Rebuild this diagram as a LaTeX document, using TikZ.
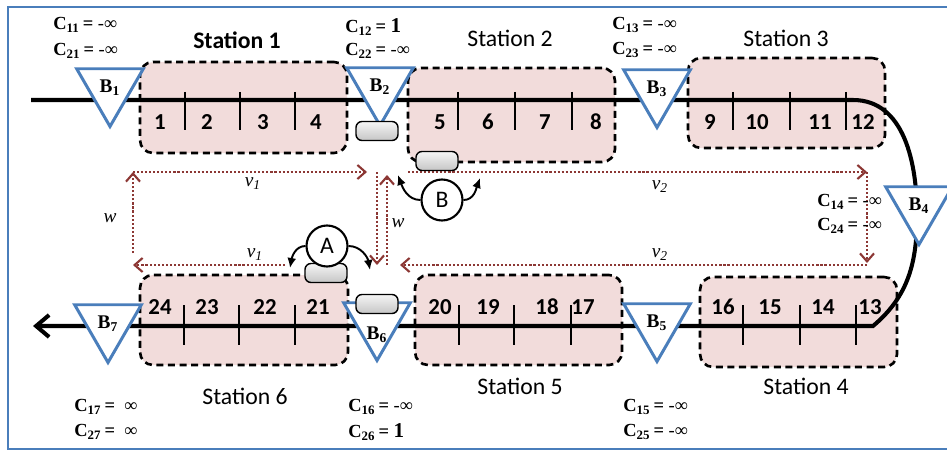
\documentclass[tikz,border=0pt]{standalone}
\usepackage{fontspec}
\setmainfont{Liberation Serif}
\newfontfamily\calibri{Carlito}
\usetikzlibrary{arrows.meta,shapes.geometric,positioning}
\definecolor{sigblue}{RGB}{74,126,187}
\definecolor{stpink}{RGB}{242,220,219}
\definecolor{gapred}{RGB}{140,55,52}
\newcommand{\cnd}[2]{\textbf{C}\textsubscript{\textbf{#1}}\,\textbf{=}\ #2}

\begin{document}
\begin{tikzpicture}[
    x=0.2mm, y=-0.2mm,
    track/.style={line width=2.3pt, black},
    station/.style={rectangle, rounded corners=2.6mm, draw=black, fill=stpink,
                    line width=1.5pt, dash pattern=on 4pt off 2.6pt},
    stlabel/.style={font=\calibri\fontsize{13.5}{15}\selectfont},
    num/.style={font=\calibri\bfseries\fontsize{13}{15}\selectfont},
    tick/.style={line width=1.3pt},
    sig/.style={regular polygon, regular polygon sides=3, shape border rotate=180,
                draw=sigblue, line width=1.7pt, fill=white, minimum size=15.4mm,
                inner sep=0pt, font=\bfseries\fontsize{11}{12}\selectfont},
    car/.style={rectangle, rounded corners=1.2mm, draw=black, line width=0.8pt,
                top color=gray!8, bottom color=gray!45, minimum width=8.4mm, minimum height=3.8mm},
    crew/.style={circle, draw=black, line width=1.2pt, fill=white, minimum size=8.2mm,
                 inner sep=0pt, font=\calibri\fontsize{13.5}{15}\selectfont},
    swing/.style={-{Latex[length=2mm,width=1.8mm]}, line width=1.1pt},
    gap/.style={-{Straight Barb[length=1.6mm,width=2.8mm]}, gapred, line width=1.2pt,
                dash pattern=on 1.2pt off 1.1pt},
    gaplbl/.style={font=\itshape\fontsize{11}{12}\selectfont},
    cond/.style={anchor=west, inner sep=0pt, font=\fontsize{10.5}{12}\selectfont}
]
\useasboundingbox (0,0) rectangle (947,451);

% ---- Frame ----
\draw[sigblue, line width=1.2pt] (947,7) -- (8,7) -- (8,449) -- (947,449);

% ---- Stations ----
\node[station, minimum width=41.4mm, minimum height=18.2mm] (st1) at (243.5,107.5) {};
\node[station, minimum width=41.4mm, minimum height=18.8mm] (st2) at (511.5,115) {};
\node[station, minimum width=39.4mm, minimum height=18mm] (st3) at (786.5,103) {};
\node[station, minimum width=41.6mm, minimum height=18mm] (st6) at (244,320) {};
\node[station, minimum width=41.4mm, minimum height=18mm] (st5) at (518.5,320) {};
\node[station, minimum width=39.4mm, minimum height=18mm] (st4) at (798.5,322) {};

\node[stlabel, font=\calibri\bfseries\fontsize{13.5}{15}\selectfont] (st1lbl) at (237,40) {Station 1};
\node[stlabel] (st2lbl) at (510,38) {Station 2};
\node[stlabel] (st3lbl) at (786,38) {Station 3};
\node[stlabel] (st6lbl) at (245,396) {Station 6};
\node[stlabel] (st5lbl) at (520,386) {Station 5};
\node[stlabel] (st4lbl) at (806,386) {Station 4};

% ---- Track ----
\coordinate (trin) at (31,100);
\coordinate (trturn) at (917,215);
\coordinate (trout) at (33,326);
\draw[track, -{Straight Barb[length=2.6mm,width=4.4mm]}]
    (trin) -- (853,100) to[out=0,in=90] (trturn) to[out=-90,in=40] (873,326) -- (trout);

\foreach \x in {185,240,295,458,515,572,733,790,846}
    \draw[tick] (\x,92) -- (\x,130);
\foreach \x in {184,239,295,459,514,571,743,800,856}
    \draw[tick] (\x,305) -- (\x,345);

\foreach \n/\x in {1/160,2/207,3/263,4/316,5/440,6/488,7/545,8/596,9/710,10/757,11/820,12/863}
    \node[num] (n\n) at (\x,122) {\n};
\foreach \n/\x in {24/160,23/207,22/265,21/318,20/440,19/488,18/547,17/583,16/723,15/770,14/823,13/870}
    \node[num] (n\n) at (\x,307) {\n};

% ---- Block signals ----
\node[sig] (b1) at (110,88) {B\textsubscript{1}};
\node[sig] (b2) at (380,87) {B\textsubscript{2}};
\node[sig] (b3) at (657,89) {B\textsubscript{3}};
\node[sig] (b4) at (919,206) {B\textsubscript{4}};
\node[sig] (b5) at (657,323) {B\textsubscript{5}};
\node[sig, label={[yshift=-2.6mm, font=\bfseries\fontsize{11}{12}\selectfont]center:B\textsubscript{6}}] (b6) at (377,322) {};
\node[sig] (b7) at (108,324) {B\textsubscript{7}};

% ---- Headways ----
\coordinate (g1) at (133,253);
\coordinate (g2) at (133,172);
\coordinate (g3) at (367,172);
\coordinate (g4) at (285,265);
\coordinate (g5) at (133,265);
\coordinate (g6) at (377,172);
\coordinate (g7) at (377,265);
\coordinate (g8) at (387,265);
\coordinate (g9) at (387,175);
\coordinate (g10) at (408,172);
\coordinate (g11) at (867,172);
\coordinate (g12) at (867,263);
\coordinate (g13) at (867,265);
\coordinate (g14) at (400,265);
\draw[gap] (g1) -- (g2);
\draw[gap] (g2) -- (g3);
\draw[gap] (g4) -- (g5);
\draw[gap] (g6) -- (g7);
\draw[gap] (g8) -- (g9);
\draw[gap] (g10) -- (g11);
\draw[gap] (g11) -- (g12);
\draw[gap] (g13) -- (g14);

\node[gaplbl] (v1top) at (253,184) {v\textsubscript{\itshape 1}};
\node[gaplbl] (v1bot) at (255,255) {v\textsubscript{\itshape 1}};
\node[gaplbl] (v2top) at (660,187) {v\textsubscript{\itshape 2}};
\node[gaplbl] (v2bot) at (660,255) {v\textsubscript{\itshape 2}};
\node[gaplbl] (wleft) at (110,218) {w};
\node[gaplbl] (wmid) at (398,223) {w};

% ---- Trains ----
\node[car] (car1) at (377,131) {};
\node[car] (car2) at (437,161) {};
\node[car] (car3) at (326,273) {};
\node[car] (car4) at (377,304) {};

% ---- Crews ----
\node[crew] (ca) at (327,246) {A};
\node[crew] (cb) at (442,200) {B};
\coordinate (atl) at (290,268);
\coordinate (atr) at (370,270);
\coordinate (btl) at (398,175);
\coordinate (btr) at (480,178);
\draw[swing] (ca.west) to[out=180,in=80] (atl);
\draw[swing] (ca.east) to[out=0,in=100] (atr);
\draw[swing] (cb.west) to[out=180,in=-70] (btl);
\draw[swing] (cb.east) to[out=0,in=-110] (btr);

% ---- Conditions ----
\node[cond] (c11) at (53,25) {\cnd{11}{-∞}};
\node[cond] (c21) at (53,51) {\cnd{21}{-∞}};
\node[cond] (c12) at (345,27) {\cnd{12}{\textbf{\large 1}}};
\node[cond] (c22) at (345,51) {\cnd{22}{-∞}};
\node[cond] (c13) at (612,25) {\cnd{13}{-∞}};
\node[cond] (c23) at (612,50) {\cnd{23}{-∞}};
\node[cond] (c14) at (817,202) {\cnd{14}{-∞}};
\node[cond] (c24) at (817,226) {\cnd{24}{-∞}};
\node[cond] (c15) at (623,407) {\cnd{15}{-∞}};
\node[cond] (c25) at (623,432) {\cnd{25}{-∞}};
\node[cond] (c16) at (348,407) {\cnd{16}{-∞}};
\node[cond] (c26) at (348,432) {\cnd{26}{\textbf{\large 1}}};
\node[cond] (c17) at (74,407) {\cnd{17}{\ ∞}};
\node[cond] (c27) at (74,432) {\cnd{27}{\ ∞}};

\end{tikzpicture}
\end{document}
